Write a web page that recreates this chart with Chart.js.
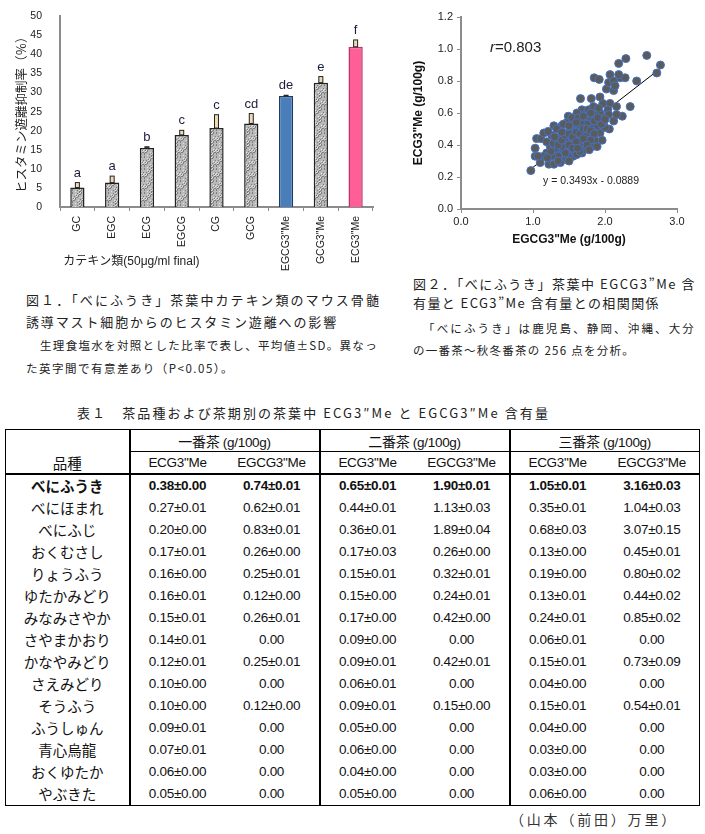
<!DOCTYPE html>
<html lang="ja">
<head>
<meta charset="utf-8">
<title>べにふうき カテキン類とメチル化カテキン</title>
<script src="https://cdn.jsdelivr.net/npm/chart.js@4.4.1/dist/chart.umd.min.js"></script>
<style>
  html, body { margin: 0; padding: 0; background: #fff; }
  #page { position: relative; width: 705px; height: 834px; overflow: hidden;
          font-family: "Noto Sans CJK JP", sans-serif; color: #222; }
  canvas { position: absolute; top: 0; }
  #barChart { left: 0; }
  #scatterChart { left: 400px; }
  .cap { position: absolute; white-space: nowrap; line-height: 20px; font-size: 13px; }
  .cap.small { font-size: 11.5px; }
  .note { position: absolute; white-space: nowrap; font-family: "Liberation Sans", Arial, sans-serif; color: #222; }
  #tbl { position: absolute; left: 5px; top: 429px; width: 695px; border-collapse: collapse;
         table-layout: fixed; border: 1.5px solid #000; }
  #tbl td { padding: 0; text-align: center; height: 22px; line-height: 18px;
            font: 13.5px "Liberation Sans", Arial, sans-serif; letter-spacing: -0.3px; color: #111; }
  #tbl td.name { font-family: "Noto Sans CJK JP", sans-serif; font-size: 14.5px; letter-spacing: 0; }
  #tbl td.g { border-left: 2px solid #000; }
  #tbl tr.h1 td { height: 21px; }
  #tbl tr.h1 td.sub { border-bottom: 1px solid #000; }
  #tbl tr.h2 td { height: 20px; border-bottom: 2px solid #000; }
  #tbl tr.bold td { font-weight: bold; }
  .jp { font-family: "Noto Sans CJK JP", sans-serif; font-size: 14px; }
</style>
</head>
<body>
<div id="page">
  <canvas id="barChart" width="390" height="280"></canvas>
  <canvas id="scatterChart" width="305" height="258"></canvas>

  <div class="note" style="left:490px; top:38px; font-size:15px;"><i>r</i>=0.803</div>
  <div class="note" style="left:543px; top:174px; font-size:10.5px;">y = 0.3493x - 0.0889</div>

  <div class="cap" data-w="355" style="left:26px; top:290px;">図１．「べにふうき」茶葉中カテキン類のマウス骨髄</div>
  <div class="cap" data-w="312" style="left:26px; top:312px;">誘導マスト細胞からのヒスタミン遊離への影響</div>
  <div class="cap small" data-w="338" style="left:40px; top:335px;">生理食塩水を対照とした比率で表し、平均値±SD。異なっ</div>
  <div class="cap small" data-w="208" style="left:26px; top:358px;">た英字間で有意差あり（P&lt;0.05）。</div>

  <div class="cap" data-w="283" style="left:413px; top:274px;">図２．「べにふうき」茶葉中 EGCG3”Me 含</div>
  <div class="cap" data-w="247" style="left:413px; top:293px;">有量と ECG3”Me 含有量との相関関係</div>
  <div class="cap small" data-w="273" style="left:423px; top:318px;">「べにふうき」は鹿児島、静岡、沖縄、大分</div>
  <div class="cap small" data-w="222" style="left:413px; top:340px;">の一番茶～秋冬番茶の 256 点を分析。</div>

  <div class="cap" data-w="473" style="left:77px; top:403px;">表１　茶品種および茶期別の茶葉中 ECG3″Me と EGCG3″Me 含有量</div>

  <table id="tbl"></table>

  <div class="cap" data-w="168" style="left:510px; top:809px; font-size:14px; color:#333;">（山本（前田）万里）</div>
</div>

<script>
// Fig.1 histamine release inhibition by catechins (50 ug/ml)
const catechins = ['GC', 'EGC', 'ECG', 'EGCG', 'CG', 'GCG', 'EGCG3"Me', 'GCG3"Me', 'ECG3"Me'];
const inhibition = [5.1, 6.4, 15.5, 18.9, 20.7, 21.9, 29.1, 32.6, 42.0];
const inhibitionSd = [1.3, 1.7, 0.3, 1.2, 3.5, 2.6, 0.2, 1.6, 1.8];
const sigLetters = ['a', 'a', 'b', 'c', 'c', 'cd', 'de', 'e', 'f'];
const yTicksBar = [0, 5, 10, 15, 20, 25, 30, 35, 40, 45, 50];

// Fig.2 EGCG3"Me vs ECG3"Me (g/100g)
const scatterPoints = [
  [0.97, 0.24], [1.03, 0.38], [1.03, 0.33], [1.05, 0.44], [1.11, 0.44], [1.15, 0.475], [1.10, 0.29],
  [1.22, 0.28], [1.29, 0.28], [1.29, 0.52], [1.40, 0.52], [1.49, 0.58], [1.66, 0.69], [1.81, 0.69],
  [1.85, 0.82], [1.92, 0.81], [2.07, 0.84], [2.02, 0.75], [2.12, 0.74], [2.19, 0.91], [2.29, 0.94],
  [2.58, 0.96], [2.77, 0.90], [2.72, 0.85], [2.44, 0.80], [2.21, 0.82], [2.28, 0.82], [2.35, 0.64],
  [2.24, 0.58], [2.12, 0.55], [2.06, 0.50], [1.97, 0.66], [2.07, 0.66], [2.16, 0.64], [1.93, 0.60],
  [1.99, 0.57], [1.84, 0.59], [1.75, 0.56], [1.68, 0.62], [1.61, 0.60], [1.56, 0.56], [1.47, 0.54],
  [1.47, 0.475], [1.38, 0.45], [1.31, 0.43], [1.24, 0.39], [1.19, 0.35], [1.15, 0.33], [1.33, 0.35],
  [1.42, 0.37], [1.52, 0.41], [1.56, 0.36], [1.66, 0.39], [1.72, 0.43], [1.79, 0.45], [1.89, 0.485],
  [1.84, 0.52], [1.70, 0.485], [1.61, 0.45], [1.54, 0.50], [1.61, 0.51], [1.75, 0.475], [1.68, 0.35],
  [1.56, 0.33], [1.45, 0.31], [1.38, 0.29], [1.49, 0.33], [1.35, 0.33], [1.26, 0.33], [1.66, 0.43],
  [1.77, 0.41], [1.86, 0.43], [1.93, 0.475], [2.00, 0.51], [1.91, 0.54], [1.82, 0.56], [1.75, 0.53],
  [1.66, 0.54], [1.59, 0.485], [1.49, 0.44], [1.45, 0.42], [1.40, 0.39], [1.31, 0.38], [1.26, 0.46],
  [1.19, 0.42], [1.33, 0.50], [1.42, 0.53], [1.54, 0.57], [1.63, 0.57], [1.72, 0.59], [1.77, 0.62],
  [1.84, 0.64], [1.91, 0.63], [2.04, 0.62], [1.98, 0.54], [2.05, 0.59], [2.16, 0.59], [1.93, 0.70],
  [2.05, 0.79], [2.12, 0.80], [2.14, 0.77], [2.19, 0.84], [1.56, 0.41], [1.82, 0.39], [1.70, 0.37],
  [1.52, 0.38], [1.61, 0.34], [1.21, 0.485], [1.28, 0.41], [1.35, 0.44], [1.89, 0.39], [1.96, 0.43],
  [1.35, 0.40], [1.40, 0.43], [1.45, 0.46], [1.50, 0.47], [1.55, 0.45], [1.60, 0.48], [1.65, 0.47],
  [1.70, 0.50], [1.75, 0.50], [1.80, 0.49], [1.85, 0.47], [1.90, 0.52], [1.95, 0.53], [1.50, 0.40],
  [1.60, 0.42], [1.70, 0.44], [1.80, 0.43], [1.45, 0.35], [1.55, 0.38], [1.65, 0.36], [1.75, 0.40],
  [1.85, 0.55], [1.40, 0.48], [1.30, 0.45], [1.50, 0.52], [1.60, 0.54], [1.70, 0.58], [1.80, 0.60],
  [1.90, 0.57], [2.00, 0.56], [1.25, 0.36], [1.20, 0.32], [1.35, 0.30], [1.50, 0.30], [1.62, 0.38],
  [1.78, 0.37], [1.07, 0.33]
];
const fitSlope = 0.3493;
const fitIntercept = -0.0889;
const fitRangeX = [0.97, 2.77];
const xTicksScatter = [0, 1, 2, 3];

// Table 1 (g/100g, mean±SD)
const teaVarieties = ['べにふうき', 'べにほまれ', 'べにふじ', 'おくむさし', 'りょうふう', 'ゆたかみどり', 'みなみさやか',
  'さやまかおり', 'かなやみどり', 'さえみどり', 'そうふう', 'ふうしゅん', '青心烏龍', 'おくゆたか', 'やぶきた'];
const harvests = ['一番茶', '二番茶', '三番茶'];
const firstFlush = [
  ['0.38±0.00', '0.74±0.01'], ['0.27±0.01', '0.62±0.01'], ['0.20±0.00', '0.83±0.01'], ['0.17±0.01', '0.26±0.00'],
  ['0.16±0.00', '0.25±0.01'], ['0.16±0.01', '0.12±0.00'], ['0.15±0.01', '0.26±0.01'], ['0.14±0.01', '0.00'],
  ['0.12±0.01', '0.25±0.01'], ['0.10±0.00', '0.00'], ['0.10±0.00', '0.12±0.00'], ['0.09±0.01', '0.00'],
  ['0.07±0.01', '0.00'], ['0.06±0.00', '0.00'], ['0.05±0.00', '0.00']
];
const secondFlush = [
  ['0.65±0.01', '1.90±0.01'], ['0.44±0.01', '1.13±0.03'], ['0.36±0.01', '1.89±0.04'], ['0.17±0.03', '0.26±0.00'],
  ['0.15±0.01', '0.32±0.01'], ['0.15±0.00', '0.24±0.01'], ['0.17±0.00', '0.42±0.00'], ['0.09±0.00', '0.00'],
  ['0.09±0.01', '0.42±0.01'], ['0.06±0.01', '0.00'], ['0.09±0.01', '0.15±0.00'], ['0.05±0.00', '0.00'],
  ['0.06±0.00', '0.00'], ['0.04±0.00', '0.00'], ['0.05±0.00', '0.00']
];
const thirdFlush = [
  ['1.05±0.01', '3.16±0.03'], ['0.35±0.01', '1.04±0.03'], ['0.68±0.03', '3.07±0.15'], ['0.13±0.00', '0.45±0.01'],
  ['0.19±0.00', '0.80±0.02'], ['0.13±0.01', '0.44±0.02'], ['0.24±0.01', '0.85±0.02'], ['0.06±0.01', '0.00'],
  ['0.15±0.01', '0.73±0.09'], ['0.04±0.00', '0.00'], ['0.15±0.01', '0.54±0.01'], ['0.04±0.00', '0.00'],
  ['0.03±0.00', '0.00'], ['0.03±0.00', '0.00'], ['0.06±0.00', '0.00']
];

const axisGrey = '#8c8c8c';
const textDark = '#222';

// speckled grey fill like the original bars
function speckle() {
  const c = document.createElement('canvas');
  c.width = 12; c.height = 12;
  const g = c.getContext('2d');
  g.fillStyle = '#b9b9b9';
  g.fillRect(0, 0, 12, 12);
  for (let i = 0; i < 12; i++) {
    for (let j = 0; j < 12; j++) {
      const k = (i * 7 + j * 13 + i * j * 3) % 9;
      if (k === 0 || k === 4) { g.fillStyle = '#7d7d7d'; g.fillRect(i, j, 1, 1); }
      else if (k === 2) { g.fillStyle = '#e2e2e2'; g.fillRect(i, j, 1, 1); }
    }
  }
  return g.createPattern(c, 'repeat');
}

const greyFill = speckle();
const barFills = catechins.map(c => c === 'EGCG3"Me' ? '#4a7ebb' : c === 'ECG3"Me' ? '#ff5f96' : greyFill);
const barEdges = catechins.map(c => c === 'EGCG3"Me' ? '#1f3c66' : c === 'ECG3"Me' ? '#b8336a' : '#222');

// one-sided SD boxes and significance letters
const errorBars = {
  id: 'errorBars',
  afterDatasetsDraw(chart) {
    const ctx = chart.ctx;
    const y = chart.scales.y;
    chart.getDatasetMeta(0).data.forEach((bar, i) => {
      const top = y.getPixelForValue(inhibition[i] + inhibitionSd[i]);
      ctx.save();
      ctx.fillStyle = '#f0dab4';
      ctx.fillRect(bar.x - 2, top, 4, bar.y - top);
      ctx.strokeStyle = '#222';
      ctx.lineWidth = 1;
      ctx.strokeRect(bar.x - 2, top, 4, bar.y - top);
      ctx.fillStyle = '#1c1c3c';
      ctx.font = '13px "Liberation Sans", Arial, sans-serif';
      ctx.textAlign = 'center';
      ctx.textBaseline = 'alphabetic';
      ctx.fillText(sigLetters[i], bar.x, top - 6);
      ctx.restore();
    });
  }
};

new Chart(document.getElementById('barChart'), {
  type: 'bar',
  data: {
    labels: catechins,
    datasets: [{
      data: inhibition,
      backgroundColor: barFills,
      borderColor: barEdges,
      borderWidth: 1.5,
      categoryPercentage: 1,
      barPercentage: 0.41
    }]
  },
  options: {
    responsive: false,
    animation: false,
    layout: { padding: { top: 13, right: 17, left: 0, bottom: 0 } },
    plugins: { legend: { display: false }, tooltip: { enabled: false } },
    scales: {
      x: {
        afterFit: s => { s.height = 73; },
        border: { color: axisGrey, width: 2 },
        grid: { display: true, drawOnChartArea: false, tickLength: 4, color: axisGrey, offset: true },
        ticks: {
          autoSkip: false, minRotation: 90, maxRotation: 90, padding: 5,
          color: textDark, font: { family: '"Liberation Sans", Arial, sans-serif', size: 10.5 }
        },
        title: {
          display: true, align: 'start', text: ' カテキン類(50μg/ml final)',
          color: textDark, padding: { top: 0, bottom: 11 },
          font: { family: '"Liberation Sans", "Noto Sans CJK JP", sans-serif', size: 12 }
        }
      },
      y: {
        min: 0, max: 50,
        afterFit: s => { s.width = 60; },
        afterBuildTicks: s => { s.ticks = yTicksBar.map(v => ({ value: v })); },
        border: { color: axisGrey, width: 2 },
        grid: { display: false },
        ticks: { padding: 10, color: textDark, font: { family: '"Liberation Sans", Arial, sans-serif', size: 10.5 } },
        title: {
          display: true, text: 'ヒスタミン遊離抑制率（％）', color: textDark,
          padding: { top: 14, bottom: 0 },
          font: { family: '"Noto Sans CJK JP", sans-serif', size: 12.5 }
        }
      }
    }
  },
  plugins: [errorBars]
});

const fitLine = fitRangeX.map(x => ({ x: x, y: fitSlope * x + fitIntercept }));

new Chart(document.getElementById('scatterChart'), {
  type: 'scatter',
  data: {
    datasets: [{
      data: scatterPoints.map(p => ({ x: p[0], y: p[1] })),
      pointRadius: 4,
      pointBackgroundColor: '#5b5b5b',
      pointBorderColor: '#4472c4',
      pointBorderWidth: 1
    }, {
      type: 'line',
      data: fitLine,
      borderColor: '#000',
      borderWidth: 1,
      pointRadius: 0,
      fill: false
    }]
  },
  options: {
    responsive: false,
    animation: false,
    layout: { padding: { top: 17, right: 28, left: 0, bottom: 0 } },
    plugins: { legend: { display: false }, tooltip: { enabled: false } },
    scales: {
      x: {
        type: 'linear', min: 0, max: 3,
        afterFit: s => { s.height = 49; },
        afterBuildTicks: s => { s.ticks = xTicksScatter.map(v => ({ value: v })); },
        border: { color: axisGrey, width: 2 },
        grid: { display: true, drawOnChartArea: false, tickLength: 4, color: axisGrey },
        ticks: { padding: 2, color: textDark, callback: v => v.toFixed(1),
                 font: { family: '"Liberation Sans", Arial, sans-serif', size: 11 } },
        title: {
          display: true, text: 'EGCG3"Me (g/100g)', color: '#111',
          padding: { top: 0, bottom: 11 },
          font: { family: '"Liberation Sans", Arial, sans-serif', size: 12, weight: 'bold' }
        }
      },
      y: {
        min: 0, max: 1.2,
        afterFit: s => { s.width = 61; },
        border: { color: axisGrey, width: 2 },
        grid: { display: true, drawOnChartArea: false, tickLength: 4, color: axisGrey },
        ticks: { stepSize: 0.2, padding: 4, color: textDark, callback: v => v.toFixed(1),
                 font: { family: '"Liberation Sans", Arial, sans-serif', size: 11 } },
        title: {
          display: true, text: 'ECG3"Me (g/100g)', color: '#111',
          padding: { top: 11, bottom: 0 },
          font: { family: '"Liberation Sans", Arial, sans-serif', size: 12, weight: 'bold' }
        }
      }
    }
  }
});

// table
function buildTable() {
  const tbl = document.getElementById('tbl');
  let html = '<colgroup><col style="width:124px">';
  for (let i = 0; i < 6; i++) html += '<col style="width:95px">';
  html += '</colgroup>';
  html += '<tr class="h1"><td></td>';
  harvests.forEach(h => {
    html += '<td class="g sub" colspan="2"><span class="jp">' + h + '</span> (g/100g)</td>';
  });
  html += '</tr><tr class="h2"><td class="name">品種</td>';
  harvests.forEach(() => { html += '<td class="g">ECG3"Me</td><td>EGCG3"Me</td>'; });
  html += '</tr>';
  teaVarieties.forEach((name, i) => {
    html += '<tr' + (i === 0 ? ' class="bold"' : '') + '><td class="name">' + name + '</td>';
    [firstFlush, secondFlush, thirdFlush].forEach(season => {
      html += '<td class="g">' + season[i][0] + '</td><td>' + season[i][1] + '</td>';
    });
    html += '</tr>';
  });
  tbl.innerHTML = html;
}
buildTable();

// stretch caption lines to the widths of the original print
document.querySelectorAll('.cap[data-w]').forEach(el => {
  const target = +el.dataset.w;
  const natural = el.getBoundingClientRect().width;
  const n = [...el.textContent].length;
  el.style.letterSpacing = ((target - natural) / n) + 'px';
});
</script>
</body>
</html>
